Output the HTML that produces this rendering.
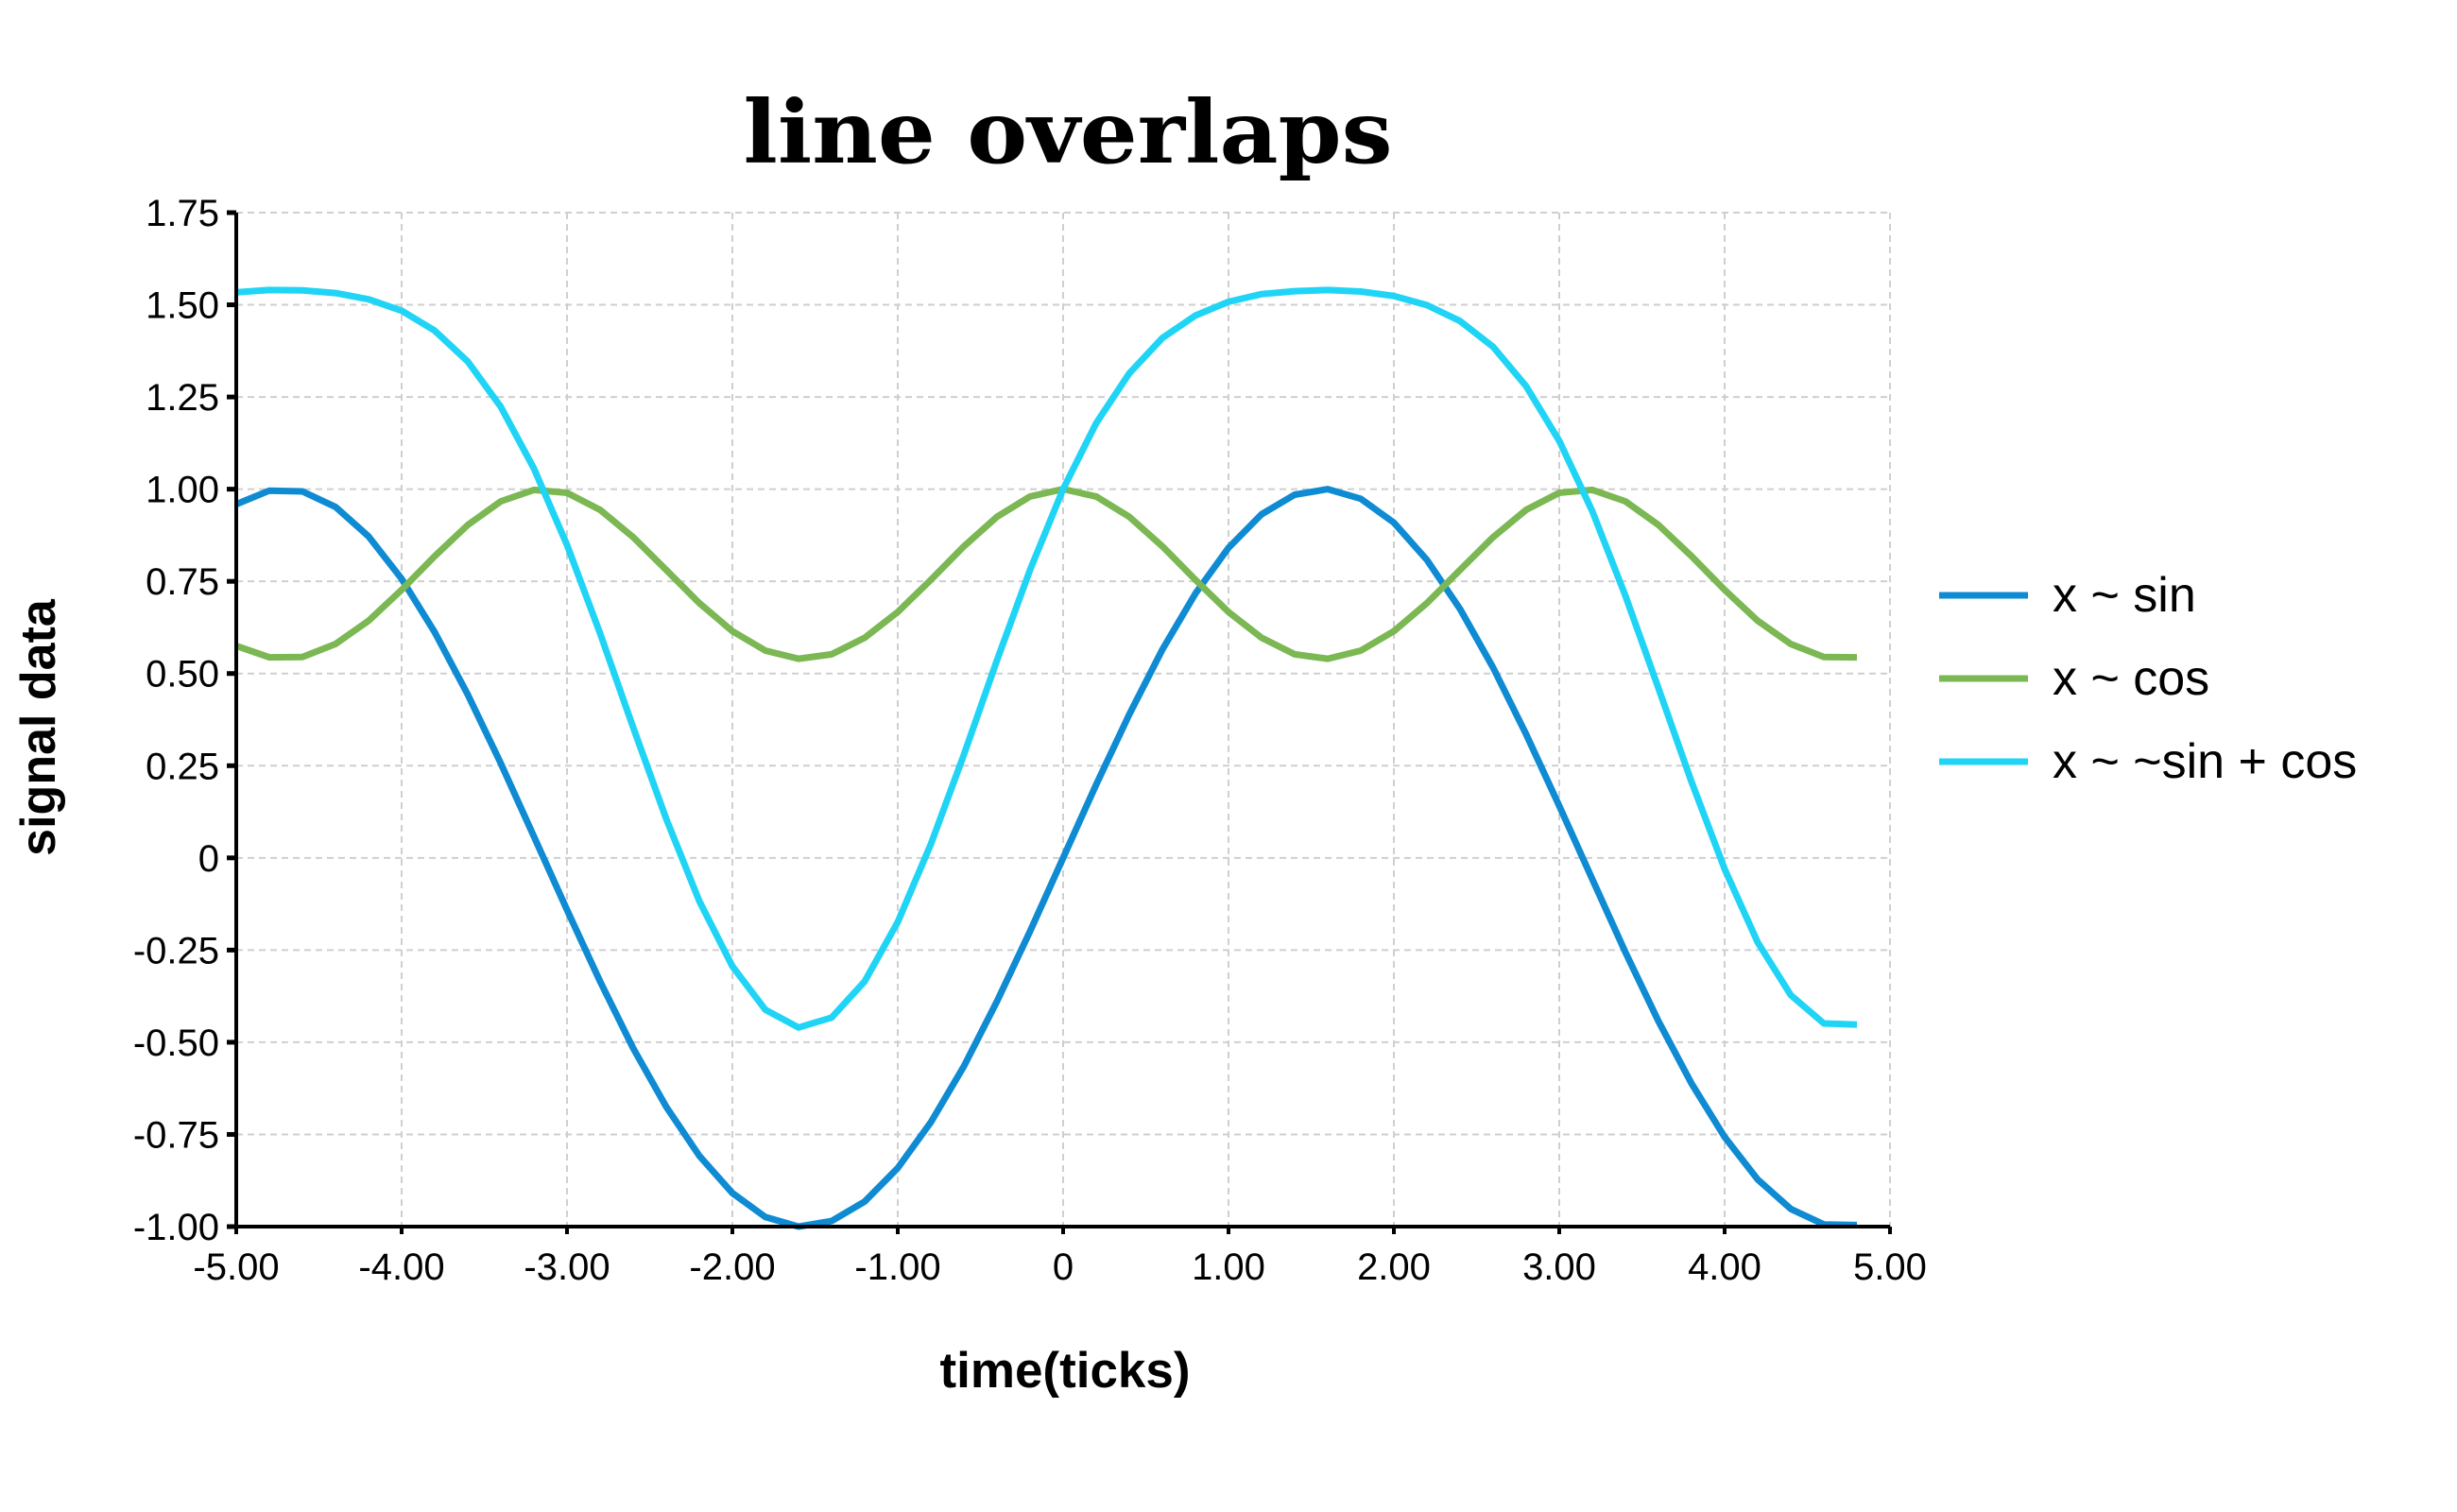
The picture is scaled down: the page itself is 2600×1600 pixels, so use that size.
<!DOCTYPE html>
<html><head><meta charset="utf-8"><style>
body{margin:0;background:#fff}
svg{display:block}
text{font-family:"Liberation Sans","DejaVu Sans",sans-serif}
</style></head><body>
<svg id="chart" width="2600" height="1600" xmlns="http://www.w3.org/2000/svg">
<text x="1130" y="172" text-anchor="middle" font-weight="bold" font-size="92" textLength="687" lengthAdjust="spacingAndGlyphs" style="font-family:'DejaVu Serif','Liberation Serif',serif">line overlaps</text>
<g id="grid"></g>
<g id="series"></g>
<g id="axes"></g>
<text x="1127" y="1468" text-anchor="middle" font-weight="bold" font-size="53">time(ticks)</text>
<text transform="translate(58,770) rotate(-90)" text-anchor="middle" font-weight="bold" font-size="52">signal data</text>
<g id="legend"></g>
</svg>
<script>
const xs = [-5.0,-4.8,-4.6,-4.4,-4.2,-4.0,-3.8,-3.6,-3.4,-3.2,-3.0,-2.8,-2.6,-2.4,-2.2,-2.0,-1.8,-1.6,-1.4,-1.2,-1.0,-0.8,-0.6,-0.4,-0.2,0,0.2,0.4,0.6,0.8,1.0,1.2,1.4,1.6,1.8,2.0,2.2,2.4,2.6,2.8,3.0,3.2,3.4,3.6,3.8,4.0,4.2,4.4,4.6,4.8];
const sinVals = [0.959,0.996,0.994,0.952,0.872,0.757,0.612,0.443,0.256,0.058,-0.141,-0.335,-0.516,-0.675,-0.808,-0.909,-0.974,-1.000,-0.985,-0.932,-0.841,-0.717,-0.565,-0.389,-0.199,0,0.199,0.389,0.565,0.717,0.841,0.932,0.985,1.000,0.974,0.909,0.808,0.675,0.516,0.335,0.141,-0.058,-0.256,-0.443,-0.612,-0.757,-0.872,-0.952,-0.994,-0.996];
const cosVals = [0.575,0.544,0.545,0.580,0.643,0.727,0.818,0.903,0.967,0.998,0.990,0.944,0.870,0.781,0.691,0.615,0.562,0.540,0.552,0.597,0.667,0.754,0.845,0.925,0.980,1.000,0.980,0.925,0.845,0.754,0.667,0.597,0.552,0.540,0.562,0.615,0.691,0.781,0.870,0.944,0.990,0.998,0.967,0.903,0.818,0.727,0.643,0.580,0.545,0.544];
const sumVals = [1.534,1.540,1.539,1.532,1.515,1.484,1.430,1.346,1.223,1.056,0.849,0.609,0.354,0.106,-0.117,-0.294,-0.412,-0.460,-0.433,-0.335,-0.174,0.037,0.280,0.536,0.781,1.000,1.179,1.314,1.410,1.471,1.508,1.529,1.537,1.540,1.536,1.524,1.499,1.456,1.386,1.279,1.131,0.940,0.711,0.460,0.206,-0.030,-0.229,-0.372,-0.449,-0.452];
const seriesNames = ["x ~ sin","x ~ cos","x ~ ~sin + cos"];
const xTicks = [-5,-4,-3,-2,-1,0,1,2,3,4,5];
const xTickLabels = ["-5.00","-4.00","-3.00","-2.00","-1.00","0","1.00","2.00","3.00","4.00","5.00"];
const yTicks = [-1,-0.75,-0.5,-0.25,0,0.25,0.5,0.75,1,1.25,1.5,1.75];
const yTickLabels = ["-1.00","-0.75","-0.50","-0.25","0","0.25","0.50","0.75","1.00","1.25","1.50","1.75"];

const NS="http://www.w3.org/2000/svg";
const L=250,R=2000,T=225,B=1298;
const sx=v=>L+(v+5)/10*(R-L);
const sy=v=>B-(v+1)/2.75*(B-T);
function mk(tag,attrs,parent){const e=document.createElementNS(NS,tag);for(const k in attrs)e.setAttribute(k,attrs[k]);parent.appendChild(e);return e;}
const grid=document.getElementById('grid'),axes=document.getElementById('axes'),ser=document.getElementById('series'),leg=document.getElementById('legend');
xTicks.forEach((t,i)=>{
  if(t>-5){const g=mk('line',{x1:sx(t),x2:sx(t),y1:T,y2:B,stroke:'#cfcfcf','stroke-width':2,'stroke-dasharray':'7,5'},grid);
  
  }
  const tk=mk('line',{x1:sx(t),x2:sx(t),y1:B,y2:B+8,stroke:'#000','stroke-width':4},axes);
  
  
  const tx=mk('text',{x:sx(t),y:B+56,'text-anchor':'middle','font-size':40},axes);
  tx.textContent=xTickLabels[i];
  
  
});
yTicks.forEach((t,i)=>{
  if(t>-1){const g=mk('line',{x1:L,x2:R,y1:sy(t),y2:sy(t),stroke:'#cfcfcf','stroke-width':2,'stroke-dasharray':'7,5'},grid);
  
  }
  const tk=mk('line',{x1:L-10,x2:L,y1:sy(t),y2:sy(t),stroke:'#000','stroke-width':5},axes);
  
  
  const tx=mk('text',{x:L-18,y:sy(t)+14,'text-anchor':'end','font-size':40},axes);
  tx.textContent=yTickLabels[i];
  
  
});
const ya=mk('line',{x1:L,x2:L,y1:T,y2:B+2,stroke:'#000','stroke-width':4},axes);


const xa=mk('line',{x1:L-2,x2:R,y1:B,y2:B,stroke:'#000','stroke-width':4},axes);


const colors=['#0e8bd3','#7bb752','#20d4f6'];
const data=[sinVals,cosVals,sumVals];
const sNames=['line-sin','line-cos','line-sin-plus-cos'];
data.forEach((vals,si)=>{
  const d=vals.map((v,i)=>(i?'L':'M')+sx(xs[i]).toFixed(1)+','+sy(v).toFixed(1)).join(' ');
  const p=mk('path',{d:d,fill:'none',stroke:colors[si],'stroke-width':7,'stroke-linejoin':'round'},ser);
  
  
  const ly=630+si*88;
  const ll=mk('line',{x1:2052,x2:2146,y1:ly,y2:ly,stroke:colors[si],'stroke-width':7},leg);
  
  
  const lt=mk('text',{x:2172,y:ly+17,'font-size':52},leg);
  lt.textContent=seriesNames[si];
  
  
});
</script>
</body></html>
